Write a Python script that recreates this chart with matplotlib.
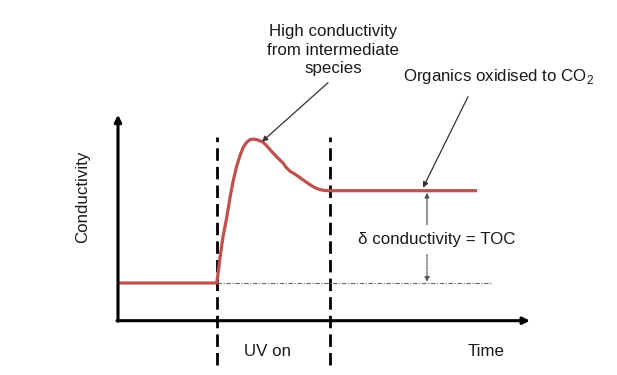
import matplotlib
matplotlib.use("Agg")
import matplotlib.pyplot as plt

plt.rcParams['font.family'] = ['Liberation Sans', 'DejaVu Sans']
plt.rcParams['mathtext.fontset'] = 'custom'
plt.rcParams['mathtext.rm'] = 'Liberation Sans'

# Schematic conductivity trace (time, conductivity) in arbitrary units
time = [0, 98.7, 100.5, 102, 105, 108.7, 112, 115, 118.5, 122, 125, 128.7, 132, 135,
        140, 145, 150, 155, 160, 165, 168, 172, 177, 182, 187, 192, 197, 202, 207, 212, 359]
cond = [37.7, 37.7, 50, 63, 84, 103, 123, 139, 154, 165, 173, 178.5, 181, 181.7,
        180.7, 178.5, 173.5, 167.7, 162.5, 157.7, 153.5, 149.5, 146.5, 143, 139.5, 136, 133, 131, 130.2, 130, 130]

uv_on = 98.7
uv_off = 212
baseline = 37.7
plateau = 130
toc_x = 309

fig = plt.figure(figsize=(6.17, 3.75), dpi=100)
ax = fig.add_axes([0, 0, 1, 1])
ax.set_xlim(-118, 617 - 118)
ax.set_ylim(320.7 - 375, 320.7)
ax.axis('off')

# axes with arrows
ax.annotate('', xy=(0, 206), xytext=(0, -0.5),
            arrowprops=dict(arrowstyle='-|>', lw=2.2, color='black', mutation_scale=10,
                            shrinkA=0, shrinkB=0))
ax.annotate('', xy=(412, 0), xytext=(-1, 0),
            arrowprops=dict(arrowstyle='-|>', lw=2.2, color='black', mutation_scale=10,
                            shrinkA=0, shrinkB=0))

# UV on / off markers
for xv in (uv_on, uv_off):
    ax.plot([xv, xv], [-44, 184], color='black', lw=2, dashes=(4.5, 2.2))

# baseline reference
ax.plot([uv_on, 374], [baseline, baseline], color='#666666', lw=0.8, dashes=(4, 1.5, 1, 1.5))

# conductivity trace
ax.plot(time, cond, color='#c0504d', lw=2.3, solid_capstyle='butt', solid_joinstyle='round')

# delta conductivity arrows
ax.annotate('', xy=(toc_x, plateau - 2), xytext=(toc_x, 96),
            arrowprops=dict(arrowstyle='-|>', lw=0.9, color='#555555', mutation_scale=7,
                            shrinkA=0, shrinkB=0))
ax.annotate('', xy=(toc_x, baseline + 1), xytext=(toc_x, 66),
            arrowprops=dict(arrowstyle='-|>', lw=0.9, color='#555555', mutation_scale=7,
                            linestyle=(0, (1, 1)), shrinkA=0, shrinkB=0))
ax.text(319, 81.5, '\u03b4 conductivity = TOC', fontsize=12.2, ha='center', va='center',
        color='#1a1a1a')

# annotations
ax.text(215, 270.5, 'High conductivity\nfrom intermediate\nspecies', fontsize=12.2,
        ha='center', va='center', linespacing=1.3, color='#1a1a1a')
ax.annotate('', xy=(144, 179), xytext=(210, 238),
            arrowprops=dict(arrowstyle='-|>', lw=0.9, color='#333333', mutation_scale=8,
                            shrinkA=0, shrinkB=0))
ax.text(381, 244, r'Organics oxidised to CO$_2$', fontsize=12.2, ha='center', va='center',
        color='#1a1a1a')
ax.annotate('', xy=(305, 133), xytext=(350, 224),
            arrowprops=dict(arrowstyle='-|>', lw=0.9, color='#333333', mutation_scale=8,
                            shrinkA=0, shrinkB=0))

# axis labels
ax.text(-35, 124, 'Conductivity', fontsize=12.2, rotation=90, ha='center', va='center',
        color='#1a1a1a')
ax.text(150, -30.5, 'UV on', fontsize=12.2, ha='center', va='center', color='#1a1a1a')
ax.text(368, -30.5, 'Time', fontsize=12.2, ha='center', va='center', color='#1a1a1a')

fig.savefig('out.png', dpi=100)
